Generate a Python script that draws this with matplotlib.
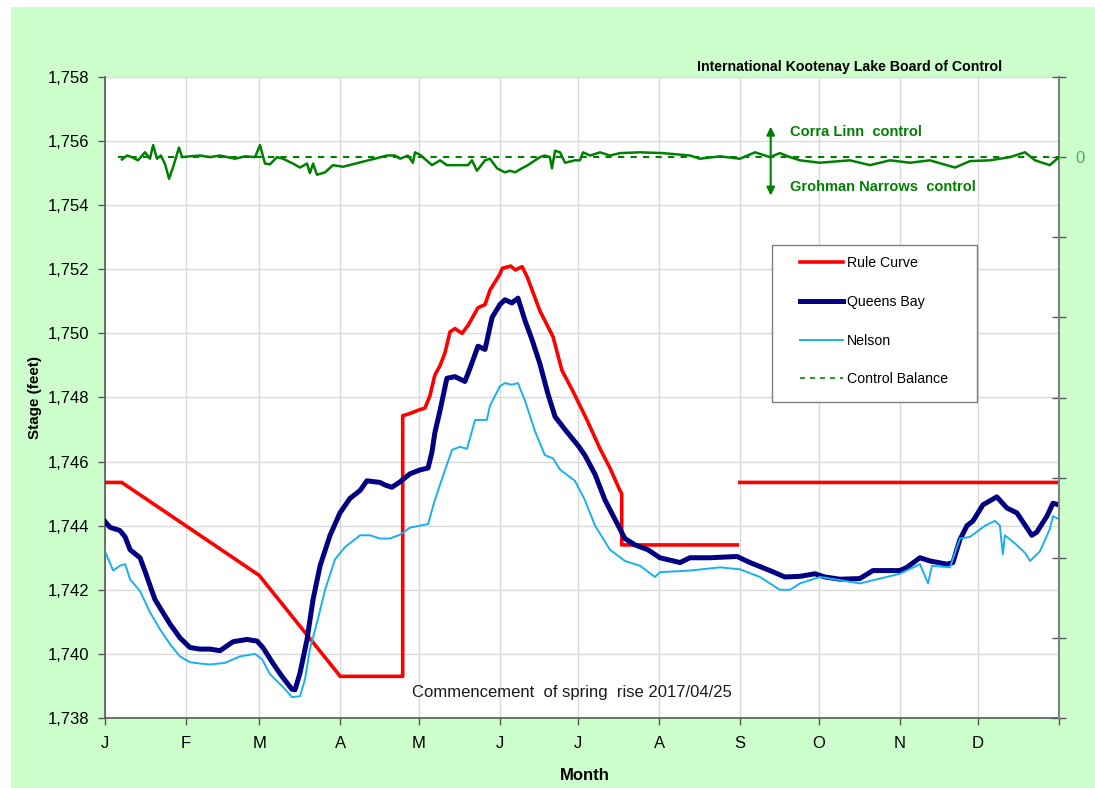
import numpy as np
import matplotlib
matplotlib.use("Agg")
import matplotlib.pyplot as plt
from matplotlib.patches import Rectangle
from matplotlib.lines import Line2D

plt.rcParams['font.family'] = ['Liberation Sans', 'DejaVu Sans']

# day of year (0 = Jan 1), stage in feet
rule_day = [0, 6.4, 59, 90, 113.9, 113.9, 116.7, 119.7, 122.4, 124.3, 126.2, 128.2, 130.1,
            132.0, 133.9, 136.6, 138.9, 142.7, 145.4, 147.3, 151.1, 152.0, 155.2, 157.0,
            159.6, 161.5, 166.4, 171.4, 174.8, 179.0, 184.4, 189.4, 193.2, 197.0, 197.7,
            197.7, 241.9, np.nan, 242.9, 365]
rule_stage = [1745.35, 1745.35, 1742.45, 1739.3, 1739.3, 1747.43, 1747.5, 1747.6, 1747.67,
              1748.05, 1748.7, 1749.0, 1749.4, 1750.05, 1750.15, 1750.0, 1750.25, 1750.8,
              1750.9, 1751.35, 1751.85, 1752.03, 1752.1, 1751.98, 1752.08, 1751.77, 1750.7,
              1749.9, 1748.85, 1748.2, 1747.3, 1746.4, 1745.8, 1745.1, 1745.0,
              1743.4, 1743.4, np.nan, 1745.35, 1745.35]

qb_day = [0, 1.9, 5.7, 7.7, 9.6, 13.4, 15.3, 19.1, 23.0, 24.9, 28.7, 32.5, 36.3, 40.2, 44.0,
          49.0, 54.3, 58.2, 60.4, 64.3, 67.7, 71.5, 72.7, 74.6, 77.3, 79.6, 82.3, 86.1, 89.9,
          93.7, 97.6, 100.2, 105.2, 107.1, 109.8, 112.9, 116.7, 120.5, 123.6, 125.1, 126.2,
          128.2, 130.8, 133.9, 137.7, 139.6, 142.7, 145.4, 148.1, 151.1, 153.0, 155.7, 158.0,
          160.7, 163.4, 166.4, 169.5, 172.2, 176.0, 181.0, 183.6, 187.5, 191.3, 195.1, 198.9,
          202.8, 207.7, 212.3, 220.0, 223.8, 231.5, 241.8, 246.8, 254.4, 260.1, 265.9, 271.6,
          275.4, 281.2, 288.8, 293.8, 304.1, 306.8, 311.8, 315.6, 322.1, 324.4, 327.1, 329.8,
          332.1, 335.9, 341.2, 345.1, 348.9, 354.6, 356.5, 360.4, 362.7, 365]
qb_stage = [1744.13, 1743.95, 1743.85, 1743.65, 1743.25, 1743.0, 1742.58, 1741.7, 1741.18,
            1740.93, 1740.5, 1740.2, 1740.15, 1740.15, 1740.1, 1740.38, 1740.45, 1740.4,
            1740.2, 1739.7, 1739.3, 1738.9, 1738.88, 1739.4, 1740.45, 1741.7, 1742.75, 1743.7,
            1744.4, 1744.85, 1745.1, 1745.4, 1745.35, 1745.27, 1745.2, 1745.37, 1745.62,
            1745.74, 1745.8, 1746.3, 1746.9, 1747.6, 1748.6, 1748.65, 1748.5, 1748.9, 1749.6,
            1749.5, 1750.5, 1750.9, 1751.05, 1750.95, 1751.1, 1750.4, 1749.8, 1749.05, 1748.1,
            1747.4, 1747.0, 1746.5, 1746.2, 1745.6, 1744.8, 1744.2, 1743.6, 1743.4, 1743.25,
            1743.0, 1742.85, 1743.0, 1743.0, 1743.04, 1742.85, 1742.6, 1742.4, 1742.42,
            1742.5, 1742.4, 1742.33, 1742.35, 1742.6, 1742.6, 1742.7, 1743.0, 1742.9, 1742.8,
            1742.85, 1743.57, 1744.0, 1744.15, 1744.65, 1744.9, 1744.55, 1744.4, 1743.7,
            1743.8, 1744.3, 1744.7, 1744.65]

nel_day = [0, 3.1, 5.7, 7.7, 9.6, 13.4, 17.2, 21.0, 24.9, 28.7, 32.5, 36.3, 40.2, 45.9, 51.6,
           57.4, 60.1, 63.1, 65.8, 68.9, 71.5, 74.6, 76.5, 78.4, 81.5, 84.2, 88.0, 91.8, 97.6,
           101.4, 105.2, 109.0, 112.9, 116.7, 120.5, 123.6, 126.2, 130.1, 132.8, 135.8, 138.5,
           141.6, 146.1, 147.3, 151.1, 153.0, 155.7, 158.0, 160.7, 164.5, 168.3, 171.4, 174.1,
           179.8, 183.6, 187.5, 193.2, 198.9, 204.7, 210.4, 212.3, 223.8, 235.3, 242.9, 250.6,
           258.2, 262.1, 265.9, 273.5, 281.2, 288.8, 296.5, 304.1, 311.8, 314.9, 316.4, 323.3,
           327.1, 330.9, 336.7, 340.5, 342.4, 343.5, 344.3, 348.1, 352.0, 353.9, 357.7, 361.5,
           362.7, 365]
nel_stage = [1743.2, 1742.6, 1742.75, 1742.8, 1742.33, 1741.96, 1741.3, 1740.77, 1740.3,
             1739.92, 1739.74, 1739.7, 1739.67, 1739.72, 1739.92, 1740.0, 1739.83, 1739.37,
             1739.15, 1738.9, 1738.65, 1738.68, 1739.2, 1740.15, 1741.1, 1742.0, 1742.95,
             1743.33, 1743.7, 1743.7, 1743.6, 1743.6, 1743.72, 1743.94, 1744.0, 1744.05,
             1744.8, 1745.74, 1746.37, 1746.46, 1746.4, 1747.3, 1747.3, 1747.75, 1748.35,
             1748.45, 1748.4, 1748.45, 1747.9, 1746.95, 1746.2, 1746.1, 1745.75, 1745.4,
             1744.8, 1744.0, 1743.25, 1742.9, 1742.75, 1742.4, 1742.55, 1742.6, 1742.7,
             1742.64, 1742.4, 1742.0, 1742.0, 1742.2, 1742.4, 1742.3, 1742.2, 1742.35, 1742.5,
             1742.8, 1742.2, 1742.75, 1742.7, 1743.6, 1743.65, 1744.0, 1744.15, 1744.0,
             1743.1, 1743.7, 1743.45, 1743.15, 1742.9, 1743.2, 1743.9, 1744.3, 1744.2]

# control balance (right axis units)
cb_day = [6.5, 8.4, 10.3, 12.6, 15.3, 17.2, 18.4, 19.9, 21.4, 23.0, 24.5, 26.0, 28.3, 29.5,
          32.5, 36.3, 40.2, 44.0, 49.7, 53.6, 57.4, 59.3, 61.2, 63.1, 65.8, 68.1, 71.9, 74.6,
          77.3, 78.4, 79.6, 81.1, 84.2, 87.2, 91.1, 107.9, 110.9, 112.9, 115.9, 117.8, 118.6,
          120.5, 125.1, 128.2, 130.8, 138.9, 140.4, 142.3, 145.4, 147.3, 150.0, 153.0, 154.9,
          156.9, 159.5, 161.8, 166.4, 168.3, 170.2, 171.0, 172.2, 174.1, 176.0, 179.8, 181.7,
          182.9, 185.6, 189.4, 193.2, 197.0, 204.7, 213.5, 223.8, 227.6, 235.3, 242.9, 248.7,
          254.4, 258.2, 262.1, 265.9, 273.5, 285.0, 292.7, 300.3, 308.0, 315.6, 325.2, 330.9,
          338.6, 346.2, 352.0, 355.8, 361.5, 365.0]
cb_val = [-0.03, 0.02, 0.0, -0.04, 0.06, -0.02, 0.15, -0.02, 0.02, -0.09, -0.27, -0.13, 0.12,
          0.0, 0.01, 0.02, 0.0, 0.02, -0.02, 0.01, 0.0, 0.15, -0.08, -0.09, 0.0, -0.02, -0.08,
          -0.13, -0.08, -0.2, -0.08, -0.22, -0.19, -0.1, -0.12, 0.02, 0.02, -0.02, 0.02, -0.07,
          0.06, 0.03, -0.1, -0.04, -0.1, -0.1, -0.04, -0.17, -0.04, -0.02, -0.14, -0.19, -0.17,
          -0.19, -0.14, -0.1, 0.0, 0.02, 0.0, -0.14, 0.08, 0.06, -0.07, -0.04, -0.04, 0.06,
          0.02, 0.06, 0.02, 0.05, 0.06, 0.05, 0.02, -0.02, 0.01, -0.02, 0.06, 0.0, 0.05, 0.0,
          -0.04, -0.07, -0.04, -0.1, -0.04, -0.07, -0.04, -0.13, -0.05, -0.04, 0.0, 0.06,
          -0.04, -0.1, 0.0]

month_days = [0, 31, 59, 90, 120, 151, 181, 212, 243, 273, 304, 334, 365]
month_labels = ['J', 'F', 'M', 'A', 'M', 'J', 'J', 'A', 'S', 'O', 'N', 'D', '']
spring_rise = 'Commencement  of spring  rise 2017/04/25'

fig = plt.figure(figsize=(10.95, 7.88), dpi=100, facecolor='white')
fig.patches.append(Rectangle((11 / 1095, 0), 1 - 11 / 1095, 781 / 788,
                             transform=fig.transFigure, facecolor='#ccffcc',
                             edgecolor='none', zorder=-10))

ax = fig.add_axes([105 / 1095, 70 / 788, 954 / 1095, 641 / 788])
ax.set_facecolor('white')
ax.plot(rule_day, rule_stage, color='#ff0000', lw=2.6, label='Rule Curve', zorder=3)
ax.plot(qb_day, qb_stage, color='#000080', lw=3.6, label='Queens Bay', zorder=4)
ax.plot(nel_day, nel_stage, color='#1ab0ee', lw=1.4, label='Nelson', zorder=5)

ax.set_xlim(0, 365)
ax.set_ylim(1738, 1758)
ax.set_yticks(range(1738, 1759, 2))
ax.set_yticklabels([f'{v:,}' for v in range(1738, 1759, 2)])
ax.set_xticks(month_days)
ax.set_xticklabels(month_labels)
ax.grid(True, color='#d9d9d9', lw=1)
ax.set_axisbelow(True)
ax.tick_params(axis='y', direction='out', length=5, width=1, color='#595959',
               labelsize=12, pad=6)
ax.tick_params(axis='x', direction='out', length=5, width=1, color='#595959',
               labelsize=12, pad=8)
for s in ['top', 'right']:
    ax.spines[s].set_visible(False)
for s in ['left', 'bottom']:
    ax.spines[s].set_color('#595959')
    ax.spines[s].set_linewidth(1.2)

ax.set_ylabel('Stage (feet)', fontsize=11, fontweight='bold')
ax.yaxis.set_label_coords(-0.066, 0.5)
ax.set_xlabel('Month', fontsize=12, fontweight='bold')
ax.xaxis.set_label_coords(0.503, -0.078)

ax.text(117.4, 1738.81, spring_rise, fontsize=12, ha='left', va='center', color='#1a1a1a')

# control balance on the secondary axis
ax2 = ax.twinx()
ax2.set_ylim(-7, 1)
ax2.plot(cb_day, cb_val, color='#008000', lw=1.8, zorder=3)
ax2.plot([5, 365], [0, 0], color='#008000', lw=1.5, ls=(0, (3, 3)))
ax2.set_yticks(range(-7, 2))
ax2.set_yticklabels(['0' if v == 0 else '' for v in range(-7, 2)])
ax2.tick_params(axis='y', direction='inout', length=10, width=1, color='#595959',
                labelsize=12, labelcolor='#4ca870', pad=7)
for s in ['top', 'left', 'bottom']:
    ax2.spines[s].set_visible(False)
ax2.spines['right'].set_color('#808080')
ax2.spines['right'].set_linewidth(1.5)

arrow_x = 254.7
ax.annotate('', xy=(arrow_x, 1756.45), xytext=(arrow_x, 1755.5),
            arrowprops=dict(arrowstyle='-|>', color='#008000', lw=1.5,
                            mutation_scale=12, shrinkA=0, shrinkB=0))
ax.annotate('', xy=(arrow_x, 1754.3), xytext=(arrow_x, 1755.5),
            arrowprops=dict(arrowstyle='-|>', color='#008000', lw=1.5,
                            mutation_scale=12, shrinkA=0, shrinkB=0))
ax.text(262.1, 1756.28, 'Corra Linn  control', color='#008000', fontsize=10.5,
        fontweight='bold', ha='left', va='center')
ax.text(262.1, 1754.56, 'Grohman Narrows  control', color='#008000', fontsize=10.5,
        fontweight='bold', ha='left', va='center')

fig.text(850 / 1095, (788 - 67) / 788, 'International Kootenay Lake Board of Control',
         fontsize=10.2, fontweight='bold', ha='center', va='center')

# legend box drawn separately so the padding matches
legend_box = Rectangle((772 / 1095, (788 - 402) / 788), 205 / 1095, 157 / 788,
                       transform=fig.transFigure, facecolor='white',
                       edgecolor='#7f7f7f', lw=1.0, zorder=4, clip_on=False)
ax2.add_artist(legend_box)
handles = [Line2D([], [], color='#ff0000', lw=2.6),
           Line2D([], [], color='#000080', lw=3.6),
           Line2D([], [], color='#1ab0ee', lw=1.4),
           Line2D([], [], color='#008000', lw=1.2, ls=(0, (3, 3)))]
labels = ['Rule Curve', 'Queens Bay', 'Nelson', 'Control Balance']
leg = ax2.legend(handles, labels, loc='upper left',
                 bbox_to_anchor=(800 / 1095, (788 - 256) / 788),
                 bbox_transform=fig.transFigure, fontsize=10.2, frameon=False,
                 borderpad=0, labelspacing=1.75, handlelength=3.0,
                 handletextpad=0.3, borderaxespad=0)
leg.set_zorder(6)

fig.savefig('out.png', dpi=100, facecolor=fig.get_facecolor())
